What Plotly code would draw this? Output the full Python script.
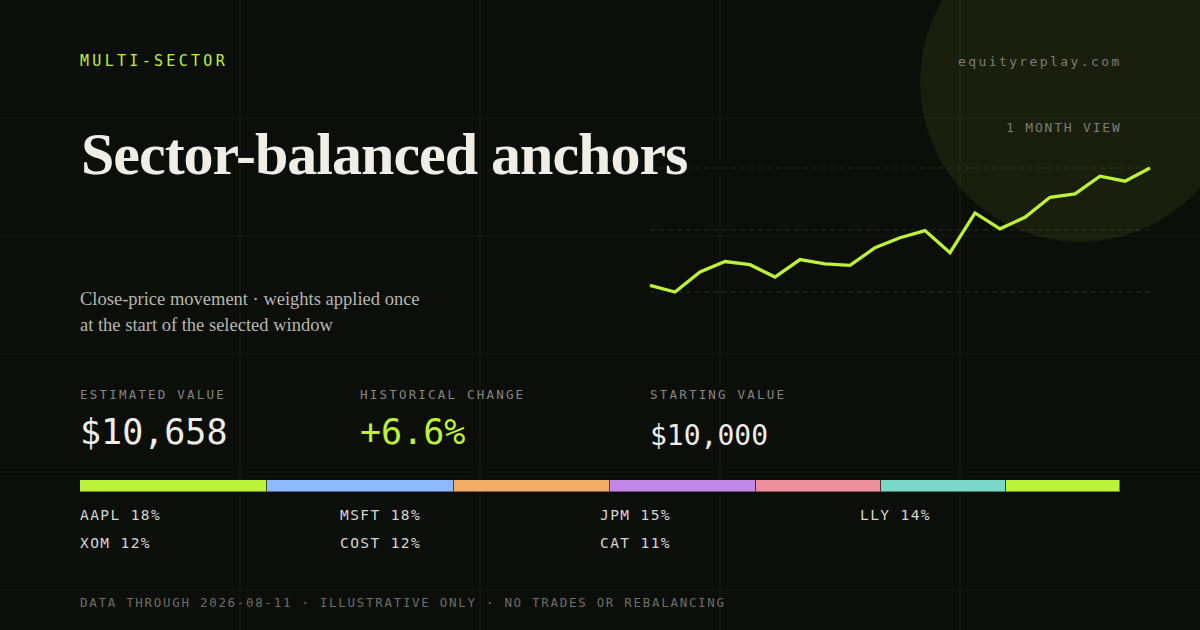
import plotly.graph_objects as go

# -----------------------------
# Data read off the card
# -----------------------------
day_index = list(range(21))
portfolio_value = [10000, 9963, 10075, 10134, 10116, 10047, 10145, 10121, 10112, 10211, 10267,
                   10307, 10183, 10406, 10317, 10382, 10494, 10513, 10612, 10584, 10658]
start_value = 10000

tickers = ["AAPL", "MSFT", "JPM", "LLY", "XOM", "COST", "CAT"]
weights = [18, 18, 15, 14, 12, 12, 11]
ticker_colors = ["#bdf23a", "#8fb9ff", "#f2ae64", "#c188e8", "#ee8f9d", "#7ad9c6", "#bdf23a"]

# -----------------------------
# Styling
# -----------------------------
W, H = 1200, 630
BG = "#0c0e0a"
LIME = "#bdf23a"
INK = "#efeee6"
MUTED = "#85877f"
SERIF = "Liberation Serif, DejaVu Serif, serif"
MONO = "DejaVu Sans Mono, Liberation Mono, monospace"


def px(x):
    return x / W


def py(y):
    return 1 - y / H


def spaced(text, ls):
    return f'<span style="letter-spacing:{ls}px">{text}</span>'


fig = go.Figure()

# sparkline
fig.add_trace(go.Scatter(x=day_index, y=portfolio_value, mode="lines",
                         line=dict(color=LIME, width=3.3),
                         xaxis="x", yaxis="y", hoverinfo="skip"))

# allocation bar
for t, w, c in zip(tickers, weights, ticker_colors):
    fig.add_trace(go.Bar(x=[w], y=[0], orientation="h", width=1,
                         marker=dict(color=c, line=dict(color="rgba(12,14,10,0.45)", width=1)),
                         xaxis="x2", yaxis="y2", hoverinfo="skip", name=t))

vmin, vmax = min(portfolio_value), max(portfolio_value)
vpad = (vmax - vmin) * 10 / 124
n = len(day_index) - 1
xpad = n * 7.5 / 500

shapes = []
# glow circle top right
shapes.append(dict(type="circle", xref="paper", yref="paper",
                   x0=px(920), x1=px(1240), y0=py(242), y1=py(-78),
                   fillcolor="rgba(190,240,60,0.075)", line=dict(width=0), layer="below"))
# background grid
for gx in [240, 480, 720, 960]:
    shapes.append(dict(type="line", xref="paper", yref="paper", x0=px(gx), x1=px(gx), y0=0, y1=1,
                       line=dict(color="rgba(255,255,255,0.05)", width=1), layer="below"))
for gy in [118, 236, 354, 472, 590]:
    shapes.append(dict(type="line", xref="paper", yref="paper", x0=0, x1=1, y0=py(gy), y1=py(gy),
                       line=dict(color="rgba(255,255,255,0.05)", width=1), layer="below"))
# dashed guides at min / mid / max
for v in [vmin, (vmin + vmax) / 2, vmax]:
    shapes.append(dict(type="line", xref="x", yref="y", x0=0, x1=n, y0=v, y1=v,
                       line=dict(color="rgba(255,255,255,0.11)", width=1, dash="5px,4px"),
                       layer="below"))


def note(x, y, text, size, color, family=MONO, anchor="left"):
    # annotations carry ~2px of padding, so nudge to the visual edge
    x = x - 2 if anchor == "left" else x + 2
    fig.add_annotation(x=px(x), y=py(y), xref="paper", yref="paper", xanchor=anchor,
                       yanchor="middle", showarrow=False, text=text, align=anchor,
                       font=dict(family=family, size=size, color=color))


note(80, 61, spaced("MULTI-SECTOR", 3.3), 15, LIME)
note(1122, 62, spaced("equityreplay.com", 2.4), 13, "#7b7e74", anchor="right")
note(1122, 128, spaced("1 MONTH VIEW", 1.8), 13, "#7b7e74", anchor="right")

note(81, 154, spaced("<b>Sector-balanced anchors</b>", -1), 60, INK, family=SERIF)
note(80, 299, "Close-price movement · weights applied once", 18.5, "#b7b7ac", family=SERIF)
note(80, 325, "at the start of the selected window", 18.5, "#b7b7ac", family=SERIF)

end_value = portfolio_value[-1]
change = (end_value / start_value - 1) * 100
stats = [(80, "ESTIMATED VALUE", f"${end_value:,.0f}", INK, 35, 432),
         (360, "HISTORICAL CHANGE", f"{change:+.1f}%", LIME, 35, 432),
         (650, "STARTING VALUE", f"${start_value:,.0f}", INK, 28, 435)]
for x, label, value, col, size, vy in stats:
    note(x, 394, spaced(label, 2.2), 12.5, MUTED)
    note(x, vy, value, size, col)

for i, (t, w) in enumerate(zip(tickers, weights)):
    col, row = i % 4, i // 4
    note(80 + 260 * col, 515 + 28 * row, spaced(f"{t} {w}%", 1.4), 14.5, "#d6d6ce")

note(80, 602, spaced("DATA THROUGH 2026-08-11 · ILLUSTRATIVE ONLY · NO TRADES OR REBALANCING", 1.7),
     12.5, "#6c6f66")

fig.update_layout(
    width=W, height=H,
    margin=dict(l=0, r=0, t=0, b=0),
    paper_bgcolor=BG, plot_bgcolor="rgba(0,0,0,0)",
    showlegend=False, hovermode=False,
    barmode="stack", bargap=0,
    shapes=shapes,
    xaxis=dict(domain=[px(650) - px(7.5), px(1150) + px(7.5)], range=[-xpad, n + xpad],
               visible=False, anchor="y"),
    yaxis=dict(domain=[py(302), py(158)], range=[vmin - vpad, vmax + vpad],
               visible=False, anchor="x"),
    xaxis2=dict(domain=[px(80), px(1120)], range=[0, sum(weights)], visible=False, anchor="y2"),
    yaxis2=dict(domain=[py(492), py(480)], range=[-0.5, 0.5], visible=False, anchor="x2"),
)

fig.write_html("out.html", config={"displayModeBar": False},
               post_script="document.body.style.margin='0';document.body.style.background='#0c0e0a';")
